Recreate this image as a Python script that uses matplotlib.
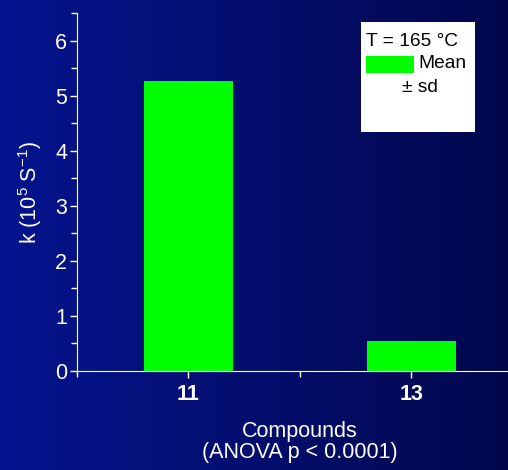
import numpy as np
import matplotlib.pyplot as plt
from matplotlib.patches import Rectangle
from matplotlib.ticker import MultipleLocator

plt.rcParams['font.family'] = ['Liberation Sans', 'DejaVu Sans']
plt.rcParams['mathtext.default'] = 'regular'

compounds = ['11', '13']
k_mean = [5.27, 0.54]
bar_color = '#00ff00'

fig = plt.figure(figsize=(5.08, 4.70), dpi=100)

# background gradient, blue on the left to navy on the right
bg = fig.add_axes([0, 0, 1, 1], zorder=-1)
grad = np.linspace(0, 1, 256).reshape(1, -1)
left_c = np.array([0.02, 0.08, 0.56])
right_c = np.array([0.01, 0.03, 0.30])
img = left_c[None, None, :] * (1 - grad[..., None]) + right_c[None, None, :] * grad[..., None]
bg.imshow(img, aspect='auto', extent=[0, 1, 0, 1])
bg.axis('off')

ax = fig.add_axes([0.1516, 0.2106, 0.877, 0.7617])
ax.patch.set_alpha(0)
x = np.arange(1, len(compounds) + 1)
ax.bar(x, k_mean, width=0.4, color=bar_color)
ax.set_xlim(0.5, 2.5)
ax.set_ylim(0, 6.5)

ax.set_xticks(x)
ax.set_xticklabels(compounds, fontweight='bold')
ax.xaxis.set_minor_locator(MultipleLocator(0.5))
ax.yaxis.set_major_locator(MultipleLocator(1))
ax.yaxis.set_minor_locator(MultipleLocator(0.5))
ax.tick_params(colors='white', labelsize=15.5, width=1, length=5, direction='out')
ax.tick_params(which='minor', colors='white', width=1, length=4)
ax.tick_params(axis='y', pad=2)
ax.tick_params(axis='x', pad=4)

for s in ['top', 'right']:
    ax.spines[s].set_visible(False)
for s in ['left', 'bottom']:
    ax.spines[s].set_color('white')

ax.set_ylabel('k (10$^5$ S$^{-1}$)', color='white', fontsize=15.5)
ax.yaxis.set_label_coords(-0.105, 0.5)
ax.yaxis.label.set_va('center')
ax.set_xlabel('Compounds\n(ANOVA p < 0.0001)', color='white', fontsize=15.5,
              linespacing=1.0)
ax.xaxis.set_label_coords(0.5, -0.14)
ax.xaxis.label.set_va('top')

# legend box
W, H = 508, 470
fig.patches.append(Rectangle((361 / W, 1 - 132 / H), 114 / W, 110 / H,
                             transform=fig.transFigure, facecolor='white',
                             edgecolor='none'))
fig.patches.append(Rectangle((366 / W, 1 - 73 / H), 48 / W, 17 / H,
                             transform=fig.transFigure, facecolor=bar_color,
                             edgecolor='none'))
fig.text(366 / W, 1 - 41 / H, 'T = 165 °C', fontsize=13.8, va='center', ha='left')
fig.text(418 / W, 1 - 64 / H, 'Mean', fontsize=13.8, va='center', ha='left')
fig.text(420 / W, 1 - 87 / H, '± sd', fontsize=13.8, va='center', ha='center')

fig.savefig('out.png', dpi=100)
